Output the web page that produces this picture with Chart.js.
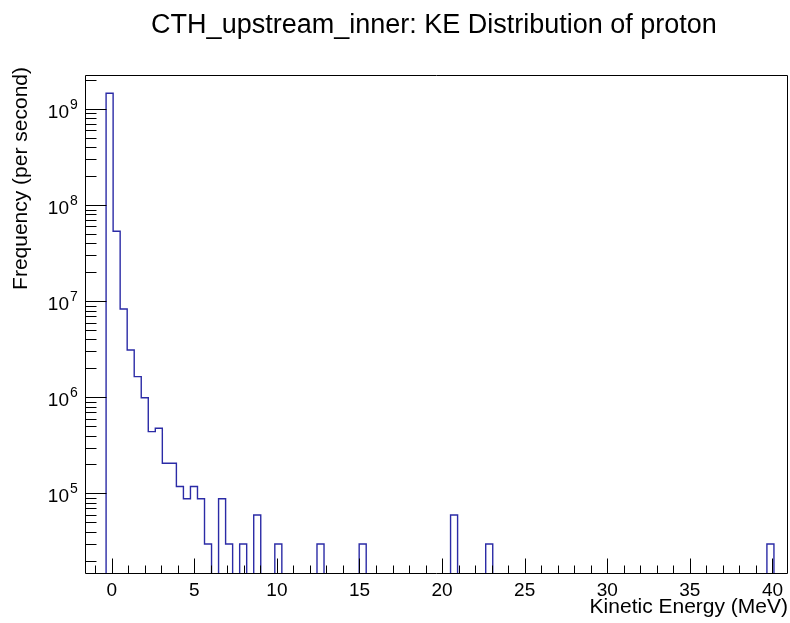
<!DOCTYPE html>
<html><head><meta charset="utf-8">
<script src="https://cdn.jsdelivr.net/npm/chart.js@4/dist/chart.umd.min.js"></script>
<style>html,body{margin:0;padding:0;background:#fff}canvas{display:block}</style>
</head><body>
<canvas id="c" width="790" height="623"></canvas>
<script>
const chartTitle = "CTH_upstream_inner: KE Distribution of proton";
const xTitle = "Kinetic Energy (MeV)";
const yTitle = "Frequency (per second)";
// histogram x range (100 equal bins)
const histRange = [-1.616, 40.94];
// bin contents (per second); 0 = empty bin
const counts = [
  0, 0, 0, 1.46e9, 5.34e7, 8.3e6, 3.11e6, 1.64e6, 9.9e5, 4.4e5,
  4.77e5, 2.06e5, 2.06e5, 1.18e5, 8.8e4, 1.18e5, 8.8e4, 2.98e4, 0, 8.8e4,
  2.98e4, 0, 2.98e4, 0, 5.97e4, 0, 0, 2.98e4, 0, 0,
  0, 0, 0, 2.98e4, 0, 0, 0, 0, 0, 2.98e4,
  0, 0, 0, 0, 0, 0, 0, 0, 0, 0,
  0, 0, 5.97e4, 0, 0, 0, 0, 2.98e4, 0, 0,
  0, 0, 0, 0, 0, 0, 0, 0, 0, 0,
  0, 0, 0, 0, 0, 0, 0, 0, 0, 0,
  0, 0, 0, 0, 0, 0, 0, 0, 0, 0,
  0, 0, 0, 0, 0, 0, 0, 2.98e4, 0, 0
];
const xTickLabels = [0, 5, 10, 15, 20, 25, 30, 35, 40];
const yDecades = [5, 6, 7, 8, 9];
const yRange = [1.45e4, 2.26e9];

const FONT = "'Liberation Sans', Arial, Helvetica, sans-serif";
const LINE = '#2b2ba6';

const binW = (histRange[1] - histRange[0]) / counts.length;
const below = yRange[0] / 10; // empty bins drawn below the frame (clipped)
const pts = counts.map((c, i) => ({ x: histRange[0] + i * binW, y: c > 0 ? c : below }));
pts.push({ x: histRange[1], y: below });

const rootFrame = {
  id: 'rootFrame',
  afterDatasetsDraw(chart) {
    const { ctx, chartArea: a, scales: { x, y } } = chart;
    ctx.save();
    ctx.strokeStyle = '#000';
    ctx.lineWidth = 1;
    const L = Math.round(a.left) + 0.5, R = Math.round(a.right) - 0.5;
    const T = Math.round(a.top) + 0.5, B = Math.round(a.bottom) - 0.5;
    ctx.beginPath();
    ctx.rect(L, T, R - L, B - T);
    // x ticks (inward)
    for (let v = Math.ceil(x.min); v <= Math.floor(x.max); v++) {
      const px = Math.round(x.getPixelForValue(v)) + 0.5;
      const len = v % 5 === 0 ? 15 : 8;
      ctx.moveTo(px, B); ctx.lineTo(px, B - len);
    }
    // y ticks (inward)
    for (let d = 4; d <= 9; d++) {
      for (let m = 1; m <= 9; m++) {
        const v = m * Math.pow(10, d);
        if (v < y.min || v > y.max) continue;
        const py = Math.round(y.getPixelForValue(v)) + 0.5;
        const len = m === 1 ? 21 : 11;
        ctx.moveTo(L, py); ctx.lineTo(L + len, py);
      }
    }
    ctx.stroke();
    // y labels 10^n
    ctx.fillStyle = '#000';
    ctx.textBaseline = 'alphabetic';
    yDecades.forEach(d => {
      const py = y.getPixelForValue(Math.pow(10, d));
      ctx.font = '19px ' + FONT;
      ctx.textAlign = 'right';
      ctx.fillText('10', 69, py + 8.5);
      ctx.font = '14px ' + FONT;
      ctx.textAlign = 'left';
      ctx.fillText(String(d), 70, py + 0);
    });
    // main title
    ctx.font = '27px ' + FONT;
    ctx.textAlign = 'center';
    ctx.fillText(chartTitle, 434, 33);
    // x title
    ctx.font = '21px ' + FONT;
    ctx.textAlign = 'right';
    ctx.fillText(xTitle, 788, 613);
    // y title
    ctx.save();
    ctx.translate(27, 67);
    ctx.rotate(-Math.PI / 2);
    ctx.textAlign = 'right';
    ctx.fillText(yTitle, 0, 0);
    ctx.restore();
    ctx.restore();
  }
};

new Chart(document.getElementById('c'), {
  type: 'line',
  data: {
    datasets: [{
      data: pts,
      stepped: 'before',
      borderColor: LINE,
      borderWidth: 1.4,
      pointRadius: 0,
      fill: false,
      clip: 0
    }]
  },
  options: {
    responsive: false,
    animation: false,
    devicePixelRatio: 1,
    layout: { padding: { left: 85, top: 75, right: 2, bottom: 0 } },
    plugins: { legend: { display: false }, tooltip: { enabled: false }, title: { display: false } },
    scales: {
      x: {
        type: 'linear',
        min: histRange[0],
        max: histRange[1],
        grid: { display: false, drawTicks: false },
        border: { display: false },
        afterBuildTicks: s => { s.ticks = xTickLabels.map(v => ({ value: v })); },
        afterFit: s => { s.height = 49; },
        ticks: { font: { family: FONT, size: 19 }, color: '#000', padding: 5, maxRotation: 0, autoSkip: false }
      },
      y: {
        type: 'logarithmic',
        min: yRange[0],
        max: yRange[1],
        display: false
      }
    }
  },
  plugins: [rootFrame]
});
</script>
</body></html>
